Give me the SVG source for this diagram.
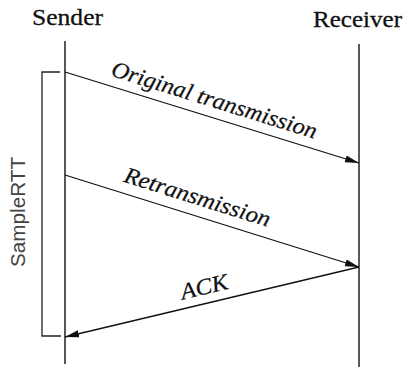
<svg xmlns="http://www.w3.org/2000/svg" width="406" height="368" viewBox="0 0 406 368">
<style>
.life{stroke:#111;stroke-width:1.4;fill:none}
.msg{stroke:#111;stroke-width:1.3;fill:none;marker-end:url(#ah)}
.brk{stroke:#222;stroke-width:1.3;fill:none}
.hdr{font-family:"Liberation Serif",serif;font-size:23px;fill:#111;stroke:#111;stroke-width:0.3}
.lbl{font-family:"Liberation Serif",serif;font-style:italic;font-size:23px;fill:#111;stroke:#111;stroke-width:0.25}
.rtt{font-family:"Liberation Sans",sans-serif;font-size:20px;fill:#444}
</style>
<defs>
<marker id="ah" markerUnits="userSpaceOnUse" markerWidth="16" markerHeight="10" refX="14" refY="4" orient="auto">
<path d="M0,0.5 L14,4 L0,7.5 Z" fill="#111"/>
</marker>
</defs>
<rect width="406" height="368" fill="#fff"/>
<g id="sender">
<line class="life" x1="65" y1="41" x2="65" y2="364"/>
<text class="hdr" x="32" y="25" textLength="71" lengthAdjust="spacingAndGlyphs">Sender</text>
</g>
<g id="receiver">
<line class="life" x1="359" y1="44" x2="359" y2="367"/>
<text class="hdr" x="313" y="27" textLength="89" lengthAdjust="spacingAndGlyphs">Receiver</text>
</g>
<g id="samplertt">
<polyline class="brk" points="60,72 42,72 42,336 61,336"/>
<text class="rtt" transform="translate(25,212) rotate(-90)" text-anchor="middle" textLength="110" lengthAdjust="spacingAndGlyphs">SampleRTT</text>
</g>
<g id="connectors">
<line class="msg" x1="65" y1="72" x2="359" y2="163"/>
<line class="msg" x1="65" y1="175" x2="359" y2="267"/>
<line class="msg" x1="359" y1="267" x2="65" y2="337"/>
<text class="lbl" transform="translate(65,72) rotate(17.2)" x="44" y="-10" textLength="214" lengthAdjust="spacingAndGlyphs">Original transmission</text>
<text class="lbl" transform="translate(65,175) rotate(17.4)" x="57" y="-11" textLength="152" lengthAdjust="spacingAndGlyphs">Retransmission</text>
<text class="lbl" transform="translate(65,337) rotate(-13.4)" x="123" y="-9" textLength="48" lengthAdjust="spacingAndGlyphs">ACK</text>
</g>
</svg>
